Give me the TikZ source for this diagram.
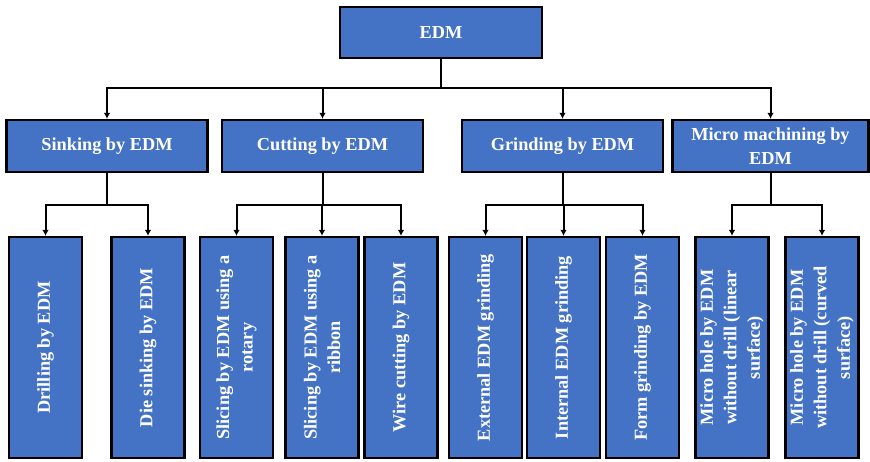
\documentclass[tikz,border=0pt]{standalone}
\usepackage{fontspec}
\setmainfont{Liberation Serif}
\usetikzlibrary{arrows.meta}
\definecolor{edmblue}{HTML}{4472C4}

\begin{document}
\begin{tikzpicture}[x=1pt, y=-1pt,
	box/.style={draw=black, line width=2.2pt, fill=edmblue, text=white,
		font=\fontsize{18.3}{23.5}\selectfont\bfseries, align=center, inner sep=0pt},
	toplevel/.style={box, minimum width=202pt, minimum height=51pt},
	method/.style={box, minimum width=201pt, minimum height=52pt},
	variant/.style={box, rotate=90, minimum width=221pt, minimum height=73pt},
	link/.style={line width=2pt, -{Latex[length=6pt,width=6.5pt]}}]

\useasboundingbox (0,0) rectangle (870,461);

% root
\node[toplevel] (edm) at (441,32.5) {EDM};

% second level
\node[method] (sink) at (107,146) {Sinking by EDM};
\node[method] (cut) at (322.5,146) {Cutting by EDM};
\node[method] (grind) at (562.5,146) {Grinding by EDM};
\node[method, minimum width=196pt] (micro) at (770.5,146) {Micro machining by\\EDM};

% third level (rotated, so .east is the top)
\node[variant] (drill) at (45.5,347.5) {Drilling by EDM};
\node[variant] (die) at (148,347.5) {Die sinking by EDM};
\node[variant] (slrot) at (236.5,347.5) {Slicing by EDM using a\\rotary};
\node[variant] (slrib) at (322,347.5) {Slicing by EDM using a\\ribbon};
\node[variant] (wire) at (401,347.5) {Wire cutting by EDM};
\node[variant] (ext) at (485.5,347.5) {External EDM grinding};
\node[variant] (int) at (563.5,347.5) {Internal EDM grinding};
\node[variant] (form) at (642.5,347.5) {Form grinding by EDM};
\node[variant] (mhlin) at (732,347.5) {Micro hole by EDM\\without drill (linear\\surface)};
\node[variant] (mhcur) at (822,347.5) {Micro hole by EDM\\without drill (curved\\surface)};

% connectors
\coordinate (bus1) at (0,88);
\coordinate (bus2) at (0,205);

\foreach \m in {sink,cut,grind,micro}
	\draw[link] (edm.south) -- (edm.south |- bus1) -| (\m.north);

\foreach \p/\c in {sink/drill, sink/die, cut/slrot, cut/slrib, cut/wire,
		grind/ext, grind/int, grind/form, micro/mhlin, micro/mhcur}
	\draw[link] (\p.south) -- (\p.south |- bus2) -| (\c.east);

\end{tikzpicture}
\end{document}
